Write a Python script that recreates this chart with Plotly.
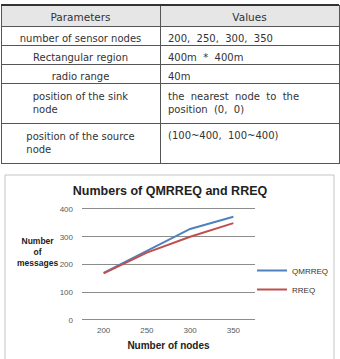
import plotly.graph_objects as go

# ---- data ----
param_names = ["number of sensor nodes", "Rectangular region", "radio range",
               "position of the sink<br>node", "position of the source<br>node"]
param_values = ["200,  250,  300,  350", "400m  *  400m", "40m",
                "the  nearest  node  to  the<br>position  (0,  0)", "(100~400,  100~400)"]
table_header = ["Parameters", "Values"]

nodes = ["200", "250", "300", "350"]
qmrreq = [170, 248, 328, 372]
rreq = [168, 243, 300, 349]
y_ticks = [0, 100, 200, 300, 400]

W, H = 340, 359
def py(p):
    return 1 - p / H
def px(p):
    return p / W

font_fam = "DejaVu Sans, sans-serif"

fig = go.Figure()

fig.add_trace(go.Table(
    domain=dict(x=[px(1), px(339)], y=[py(172), py(5)]),
    columnwidth=[159, 179],
    header=dict(values=table_header, fill_color="#e6e6e6",
                line=dict(color="#555555", width=1),
                font=dict(family=font_fam, size=10.5, color="#333333"),
                align="center", height=21),
    cells=dict(values=[param_names, param_values], fill_color="white",
               line=dict(color="#555555", width=1),
               font=dict(family=font_fam, size=10, color="#333333"),
               align=["center", "left"], height=19),
))

fig.add_trace(go.Scatter(x=nodes, y=qmrreq, mode="lines", name="QMRREQ",
                         line=dict(color="#4F81BD", width=2)))
fig.add_trace(go.Scatter(x=nodes, y=rreq, mode="lines", name="RREQ",
                         line=dict(color="#C0504D", width=2)))

# 400 -> y=209px, 0 -> y=320px (0.2775 px per unit); pad range so edge gridlines show
pad = 15
ppu = 111 / 400
fig.update_layout(
    width=W, height=H,
    margin=dict(l=0, r=0, t=0, b=0),
    paper_bgcolor="white", plot_bgcolor="white",
    xaxis=dict(domain=[px(82), px(255)], type="category", range=[-0.5, 3.5],
               showgrid=False, zeroline=False, showline=False, ticks="",
               tickfont=dict(family="Liberation Sans, Arial", size=8, color="#595959"),
               title=dict(text="<b>Number of nodes</b>", standoff=7,
                          font=dict(family="Liberation Sans, Arial", size=10, color="#222222"))),
    yaxis=dict(domain=[py(320 + pad * ppu), py(209 - pad * ppu)], range=[-pad, 400 + pad],
               tickvals=y_ticks,
               showgrid=True, gridcolor="#8c8c8c", gridwidth=1, zeroline=False,
               showline=False, ticks="",
               tickfont=dict(family="Liberation Sans, Arial", size=8, color="#595959"),
               ticklabelstandoff=8),
    title=dict(text="<b>Numbers of QMRREQ and RREQ</b>", x=0.5, xanchor="center",
               y=py(191), yanchor="middle",
               font=dict(family="Liberation Sans, Arial", size=12.5, color="#222222")),
    legend=dict(x=px(252), y=py(280), xanchor="left", yanchor="middle",
                bgcolor="rgba(0,0,0,0)", itemwidth=30,
                font=dict(family="Liberation Sans, Arial", size=8, color="#333333"),
                tracegroupgap=4),
    showlegend=True,
)

fig.add_annotation(x=px(37), y=py(252), xref="paper", yref="paper",
                   xanchor="center", yanchor="middle",
                   text="<b>Number<br>of<br>messages</b>", showarrow=False,
                   font=dict(family="Liberation Sans, Arial", size=8.5, color="#222222"),
                   align="center")

# chart frame
fig.add_shape(type="rect", xref="paper", yref="paper",
              x0=px(5), x1=px(334), y0=py(375), y1=py(175),
              line=dict(color="#c4c4c4", width=1))
# thick table top border
fig.add_shape(type="line", xref="paper", yref="paper",
              x0=px(1), x1=px(339), y0=py(5), y1=py(5),
              line=dict(color="#333333", width=2))

fig.write_html("out.html")
